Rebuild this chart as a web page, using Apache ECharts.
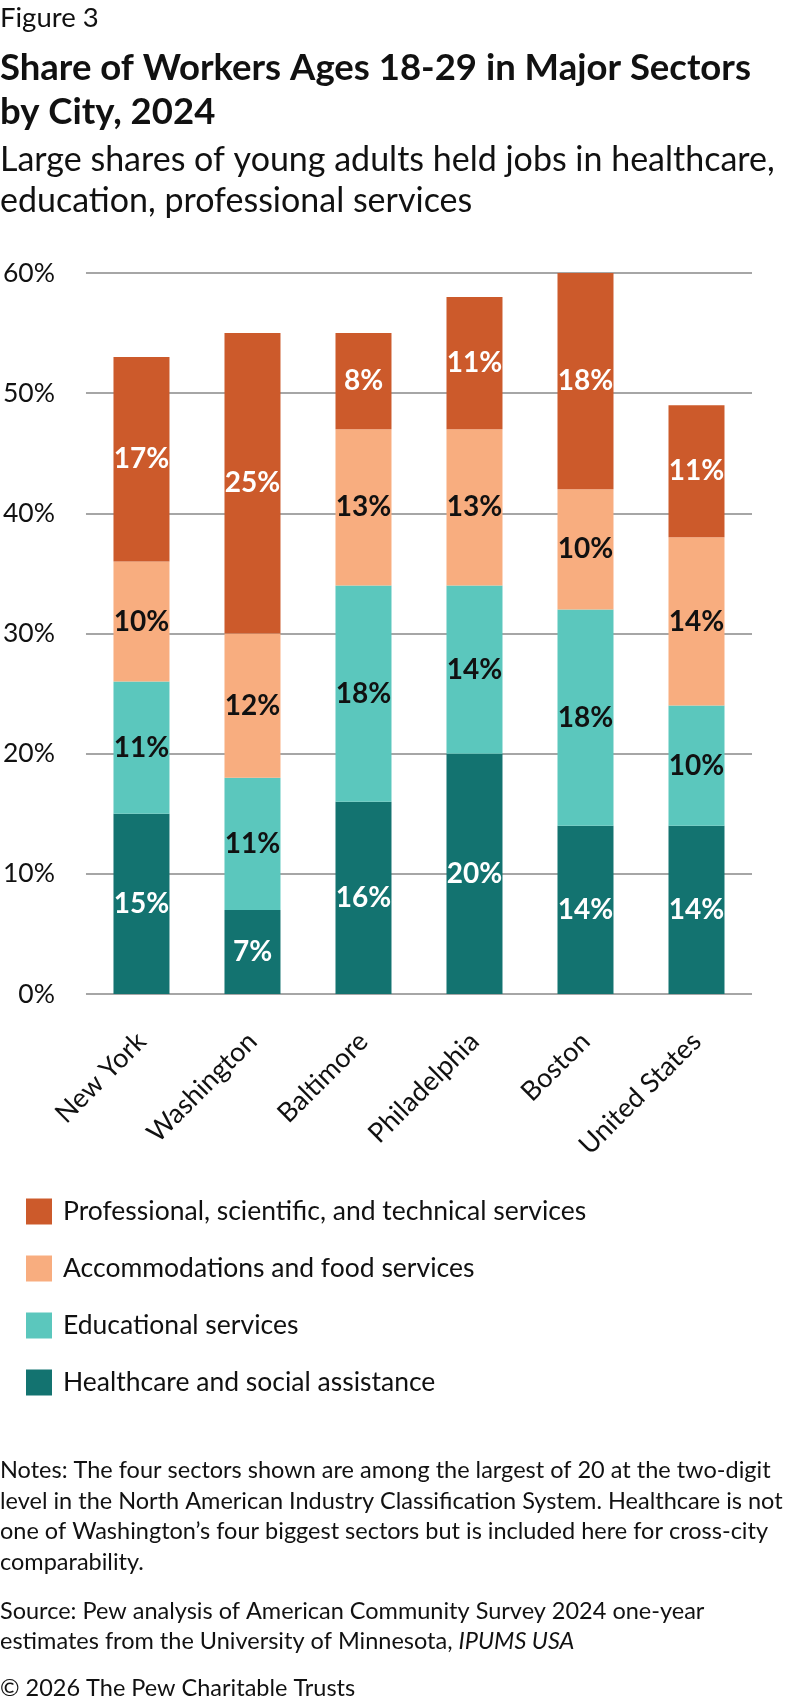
<!DOCTYPE HTML>
<html lang="en">

<head>
	<meta charset="utf-8">
	<title>Share of Workers Ages 18-29 in Major Sectors by City, 2024</title>
	<style>
		html, body {
			margin: 0;
			padding: 0;
			background: #fff;
		}

		#chart {
			width: 792px;
			height: 1706px;
		}
	</style>
</head>

<body>
	<div id="chart"></div>

	<script src="https://cdn.jsdelivr.net/npm/echarts@6/dist/echarts.min.js"></script>
	<script>
		// data
		var cities = ['New York', 'Washington', 'Baltimore', 'Philadelphia', 'Boston', 'United States'];
		var healthcare = [15, 7, 16, 20, 14, 14];
		var educational = [11, 11, 18, 14, 18, 10];
		var accommodations = [10, 12, 13, 13, 10, 14];
		var professional = [17, 25, 8, 11, 18, 11];
		var yTicks = [0, 10, 20, 30, 40, 50, 60];

		var sectorNames = [
			'Healthcare and social assistance',
			'Educational services',
			'Accommodations and food services',
			'Professional, scientific, and technical services'
		];
		var sectorColors = ['#137370', '#5BC7BD', '#F8AD7F', '#CC5A2B'];
		var labelColors = ['#fff', '#111', '#111', '#fff'];

		var font = 'Lato, "Noto Sans", sans-serif';
		var chart = echarts.init(document.getElementById('chart'));

		function makeSeries(i, values) {
			return {
				name: sectorNames[i],
				type: 'bar',
				stack: 'all',
				barWidth: 56,
				data: values,
				itemStyle: { color: sectorColors[i] },
				label: {
					show: true,
					position: 'inside',
					formatter: '{c}%',
					fontFamily: font,
					fontSize: 28,
					fontWeight: 'bold',
					color: labelColors[i]
				},
				emphasis: { disabled: true }
			};
		}

		chart.setOption({
			animation: false,
			textStyle: { fontFamily: font, color: '#111' },
			grid: { left: 82, right: 40, top: 273, bottom: 712, containLabel: false },
			legend: {
				orient: 'vertical',
				left: 21,
				top: 1193,
				icon: 'rect',
				itemWidth: 26,
				itemHeight: 26,
				itemGap: 30,
				selectedMode: false,
				data: sectorNames.slice().reverse(),
				textStyle: { fontFamily: font, fontSize: 26.5, lineHeight: 26, color: '#111', padding: [0, 0, 0, 6] }
			},
			xAxis: {
				type: 'category',
				data: cities,
				axisTick: { show: false },
				axisLine: { show: false },
				axisLabel: {
					rotate: 45,
					interval: 0,
					margin: 43,
					fontFamily: font,
					fontSize: 27,
					color: '#111'
				}
			},
			yAxis: {
				type: 'value',
				min: yTicks[0],
				max: yTicks[yTicks.length - 1],
				interval: 10,
				axisLine: { show: false },
				axisTick: { show: false },
				splitLine: { lineStyle: { color: '#A6A6A6', width: 2 } },
				axisLabel: {
					formatter: '{value}%',
					margin: 31,
					fontFamily: font,
					fontSize: 26.5,
					color: '#111'
				}
			},
			series: [
				makeSeries(0, healthcare),
				makeSeries(1, educational),
				makeSeries(2, accommodations),
				makeSeries(3, professional)
			],
			graphic: [
				{
					type: 'text', left: 0, top: 4,
					style: { text: 'Figure 3', font: '27.5px ' + font, fill: '#111' }
				},
				{
					type: 'text', left: 0, top: 45.5,
					style: {
						text: 'Share of Workers Ages 18-29 in Major Sectors\nby City, 2024',
						font: 'bold 36.5px ' + font, lineHeight: 44.5, fill: '#111'
					}
				},
				{
					type: 'text', left: 0, top: 140,
					style: {
						text: 'Large shares of young adults held jobs in healthcare,\neducation, professional services',
						font: '34px ' + font, lineHeight: 40.5, fill: '#111'
					}
				},
				{
					type: 'text', left: 0, top: 1455,
					style: {
						text: 'Notes: The four sectors shown are among the largest of 20 at the two-digit\n' +
							'level in the North American Industry Classification System. Healthcare is not\n' +
							'one of Washington\u2019s four biggest sectors but is included here for cross-city\n' +
							'comparability.',
						font: '23.5px ' + font, lineHeight: 30.7, fill: '#111'
					}
				},
				{
					type: 'text', left: 0, top: 1597,
					style: {
						text: 'Source: Pew analysis of American Community Survey 2024 one-year\n' +
							'estimates from the University of Minnesota, {i|IPUMS USA}',
						font: '23.5px ' + font, lineHeight: 29.5, fill: '#111',
						rich: { i: { fontStyle: 'italic', fontFamily: font, fontSize: 23.5, lineHeight: 29.5, fill: '#111' } }
					}
				},
				{
					type: 'text', left: 0, top: 1676,
					style: { text: '\u00A9 2026 The Pew Charitable Trusts', font: '23.5px ' + font, fill: '#111' }
				}
			]
		});
	</script>
</body>

</html>
